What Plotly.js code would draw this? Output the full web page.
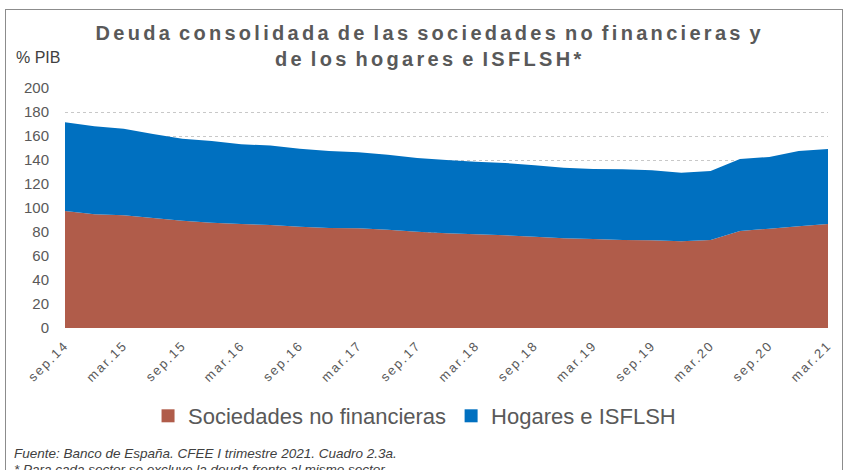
<!DOCTYPE html>
<html>
<head>
<meta charset="utf-8">
<script src="https://cdn.plot.ly/plotly-3.0.1.min.js"></script>
<style>
  html, body { margin: 0; padding: 0; background: #ffffff; overflow: hidden; }
  #frame { position: absolute; left: 5px; top: 9px; width: 838px; height: 480px; border: 1px solid #8c8c8c; box-sizing: border-box; }
  #chart { position: absolute; left: 0; top: 0; width: 846px; height: 470px; }
  .gtitle { letter-spacing: 3.3px; word-spacing: -3px; }
  .xtick text { letter-spacing: 2px; }
</style>
</head>
<body>
<div id="frame"></div>
<div id="chart"></div>
<script>
// Quarterly periods sep.14 .. mar.21
const quarters = ["sep.14","dic.14","mar.15","jun.15","sep.15","dic.15","mar.16","jun.16","sep.16","dic.16",
                  "mar.17","jun.17","sep.17","dic.17","mar.18","jun.18","sep.18","dic.18","mar.19","jun.19",
                  "sep.19","dic.19","mar.20","jun.20","sep.20","dic.20","mar.21"];
// % PIB
const sociedades = [97.5,94.7,93.9,91.7,89.4,87.8,86.7,85.8,84.4,83.3,
                    83.1,81.9,80.3,78.9,78.1,77.2,76.1,74.7,74.2,73.3,
                    73.1,72.2,73.3,80.8,82.8,84.7,86.7];
const hogares    = [73.9,73.4,72.2,70.0,68.4,68.0,66.4,66.2,65.0,64.2,
                    63.3,62.5,61.4,61.1,60.5,60.3,59.5,58.9,58.3,58.9,
                    58.3,57.2,57.5,60.0,59.7,62.8,62.5];
const tickLabels = ["sep.14","mar.15","sep.15","mar.16","sep.16","mar.17","sep.17",
                    "mar.18","sep.18","mar.19","sep.19","mar.20","sep.20","mar.21"];
const seriesNames = ["Sociedades no financieras","Hogares e ISFLSH"];

const RED = "#B05C4A", BLUE = "#0070C0";

const traces = [
  {x: quarters, y: sociedades, type: "scatter", mode: "none", stackgroup: "one",
   fillcolor: RED, name: seriesNames[0], showlegend: false, hoverinfo: "skip"},
  {x: quarters, y: hogares, type: "scatter", mode: "none", stackgroup: "one",
   fillcolor: BLUE, name: seriesNames[1], showlegend: false, hoverinfo: "skip"},
  {x: [null], y: [null], type: "scatter", mode: "markers", name: seriesNames[0],
   marker: {symbol: "square", size: 13, color: RED}},
  {x: [null], y: [null], type: "scatter", mode: "markers", name: seriesNames[1],
   marker: {symbol: "square", size: 13, color: BLUE}}
];

const FONT = "Liberation Sans, Arial, sans-serif";
const layout = {
  width: 846, height: 470,
  margin: {l: 65, r: 18, t: 88, b: 142},
  paper_bgcolor: "rgba(0,0,0,0)", plot_bgcolor: "rgba(0,0,0,0)",
  font: {family: FONT, color: "#595959"},
  title: {
    text: "<b>Deuda consolidada de las sociedades no financieras y<br>de los hogares e ISFLSH*</b>",
    font: {family: FONT, size: 20, color: "#595959"},
    xref: "container", x: 0.508, xanchor: "center",
    yref: "container", y: 1 - 40/470, yanchor: "top"
  },
  xaxis: {
    type: "category", range: [0, quarters.length - 1],
    tickvals: tickLabels, ticktext: tickLabels, tickangle: -45,
    tickfont: {family: FONT, size: 13, color: "#595959"},
    ticklabelstandoff: 6,
    showgrid: false, zeroline: false, showline: false, ticks: "", fixedrange: true
  },
  yaxis: {
    range: [0, 200], dtick: 20, tick0: 0,
    tickfont: {family: FONT, size: 15, color: "#595959"},
    ticklabelstandoff: 15,
    showgrid: true, gridcolor: "#c8c8c8", griddash: "dot", gridwidth: 1,
    zeroline: false, showline: false, ticks: "", ticklen: 0, fixedrange: true
  },
  showlegend: true,
  legend: {
    orientation: "h", traceorder: "normal",
    x: 0.49, xanchor: "center", xref: "container",
    y: 1 - 416/470, yref: "container", yanchor: "middle",
    font: {family: FONT, size: 22, color: "#595959"},
    itemwidth: 30, tracegroupgap: 0
  },
  annotations: [
    {text: "% PIB", xref: "paper", yref: "paper", x: -51/763, xanchor: "left",
     y: 1 + 31/240, yanchor: "middle", showarrow: false,
     font: {family: FONT, size: 16, color: "#404040"}},
    {text: "<i>Fuente: Banco de España. CFEE I trimestre 2021. Cuadro 2.3a.</i>",
     xref: "paper", yref: "paper", x: -53/763, xanchor: "left",
     y: -(453-328)/240, yanchor: "middle", showarrow: false,
     font: {family: FONT, size: 13.5, color: "#404040"}},
    {text: "<i>* Para cada sector se excluye la deuda frente al mismo sector.</i>",
     xref: "paper", yref: "paper", x: -53/763, xanchor: "left",
     y: -(469-328)/240, yanchor: "middle", showarrow: false,
     font: {family: FONT, size: 13.5, color: "#404040"}}
  ]
};

Plotly.newPlot("chart", traces, layout, {displayModeBar: false, staticPlot: true});
</script>
</body>
</html>
